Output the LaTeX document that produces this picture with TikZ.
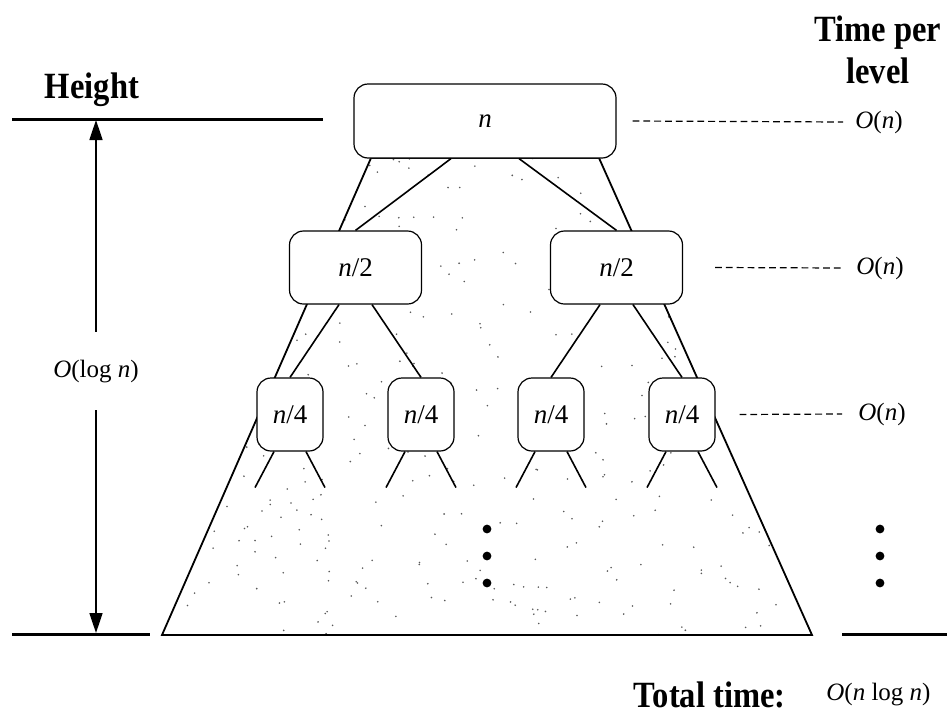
\documentclass[tikz,border=0pt]{standalone}
\usepackage{fontspec}
\setmainfont{Liberation Serif}
\newfontfamily\headfont[FakeStretch=0.88]{Liberation Serif}
\usetikzlibrary{arrows.meta, calc}

\begin{document}
\begin{tikzpicture}[x=0.5pt, y=-0.5pt,
    cell/.style={draw, rounded corners=7pt, fill=white, line width=0.6pt,
                 inner sep=0pt, minimum height=36.5pt,
                 font=\fontsize{13.5}{15}\selectfont},
    edge/.style={line width=0.8pt},
    rule/.style={line width=1.5pt},
    lvl/.style={dash pattern=on 3.4pt off 2pt, line width=0.6pt},
    head/.style={font=\headfont\bfseries\fontsize{18.5}{21}\selectfont,
                 align=center, inner sep=0pt},
    cost/.style={font=\fontsize{12.5}{14}\selectfont, inner sep=0pt},
    harrow/.style={{Triangle[length=10pt,width=6.5pt]}-{Triangle[length=10pt,width=6.5pt]},
                   line width=0.8pt},
    speck/.style={fill=black!65}
  ]
    \useasboundingbox (0,0) rectangle (947,723);

    % speckled recursion triangle
    \begin{scope}
      \clip (371,158) -- (599,158) -- (812,635) -- (162,635) -- cycle;
      \pgfmathsetseed{4711}
      \foreach \k in {1,...,450}
        \fill[speck] ({162+650*rnd},{158+477*rnd}) circle (0.45pt);
    \end{scope}
    \draw[line width=0.9pt] (371,158) -- (599,158) -- (812,635) -- (162,635) -- cycle;

    % tree
    \node[cell, minimum width=131pt, minimum height=37pt] (root) at (485,121) {\textit{n}};
    \node[cell, minimum width=66pt] (h1) at (355.5,267.5) {\textit{n}/2};
    \node[cell, minimum width=66pt] (h2) at (616.5,267.5) {\textit{n}/2};
    \node[cell, minimum width=33pt] (q1) at (290,414.5) {\textit{n}/4};
    \node[cell, minimum width=33pt] (q2) at (421,414.5) {\textit{n}/4};
    \node[cell, minimum width=33pt] (q3) at (551,414.5) {\textit{n}/4};
    \node[cell, minimum width=33pt] (q4) at (682,414.5) {\textit{n}/4};

    \draw[edge] ([xshift=-17pt]root.south) -- (h1.north);
    \draw[edge] ([xshift=17pt]root.south) -- (h2.north);
    \draw[edge] ([xshift=-8.25pt]h1.south) -- (q1.north);
    \draw[edge] ([xshift=8.25pt]h1.south) -- (q2.north);
    \draw[edge] ([xshift=-8.25pt]h2.south) -- (q3.north);
    \draw[edge] ([xshift=8.25pt]h2.south) -- (q4.north);
    \foreach \q in {q1,q2,q3,q4} {
      \draw[edge] ([xshift=-8pt]\q.south) -- ++(-9.5pt,-18pt);
      \draw[edge] ([xshift=8pt]\q.south) -- ++(9.5pt,-18pt);
    }
    \foreach \yy in {529,556,583} {
      \fill (487,\yy) circle (2.2pt);
      \fill (880,\yy) circle (2.2pt);
    }

    % height scale
    \coordinate (tl) at (12,119);
    \coordinate (tr) at (323,119);
    \coordinate (bl) at (12,634);
    \coordinate (br) at (150,634);
    \coordinate (rl) at (842,634);
    \coordinate (rr) at (947,634);
    \coordinate (htop) at (96,120);
    \coordinate (hbot) at (96,633);
    \draw[rule] (tl) -- (tr);
    \draw[rule] (bl) -- (br);
    \draw[rule] (rl) -- (rr);
    \draw[harrow] (htop) -- node[pos=0.49, cost, fill=white, inner xsep=2pt,
      minimum height=39pt] (hlabel) {\textit{O}(log \textit{n})} (hbot);
    \node[head] (height) at (92,90) {Height};

    % time per level
    \node[head] (tpl) at (878,50) {Time per\\level};
    \node[cost, anchor=west] (c1) at (855,122) {\textit{O}(\textit{n})};
    \node[cost, anchor=west] (c2) at (856,268) {\textit{O}(\textit{n})};
    \node[cost, anchor=west] (c3) at (858,414) {\textit{O}(\textit{n})};
    \draw[lvl] ([xshift=8pt]root.east) -- ([xshift=-6pt]c1.west);
    \draw[lvl] ([xshift=16pt]h2.east) -- ([xshift=-7pt]c2.west);
    \draw[lvl] ([xshift=12pt]q4.east) -- ([xshift=-8pt]c3.west);

    \node[head, anchor=east] (total) at (786,695) {Total time:};
    \node[cost, anchor=west] (totalcost) at (826,695) {\textit{O}(\textit{n} log \textit{n})};
\end{tikzpicture}
\end{document}
